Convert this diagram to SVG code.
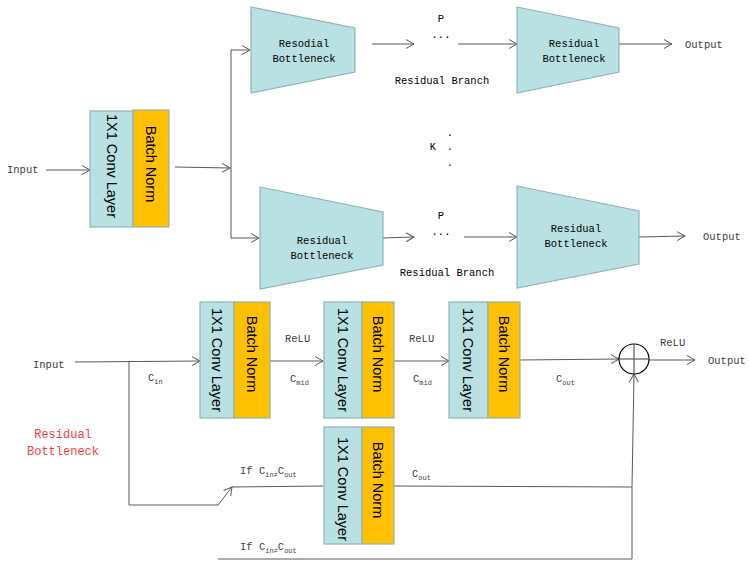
<svg xmlns="http://www.w3.org/2000/svg" width="749" height="563" viewBox="0 0 749 563">
<style>
.conv{fill:#b9e0e3;stroke:#8fb4b6;stroke-width:1.2}
.bn{fill:#ffc000;stroke:#8fb4b6;stroke-width:1.2}
.trap{fill:#b9e0e3;stroke:#8fb4b6;stroke-width:1.2}
.vt{font-family:"Liberation Sans",Arial,sans-serif;font-size:14.5px;fill:#000;text-anchor:middle;dominant-baseline:central}
.lb{font-family:"Liberation Mono","Courier New",monospace;font-size:10.5px;fill:#404040}
.bk{font-family:"Liberation Mono","Courier New",monospace;font-size:10.5px;fill:#000}
.mid{text-anchor:middle}
.sub{font-size:7px}
.red{font-family:"Liberation Mono","Courier New",monospace;font-size:12px;fill:#ff3b3b;text-anchor:middle}
.ln{fill:none;stroke:#595959;stroke-width:1}
.ar{marker-end:url(#arr)}
</style>
<defs>
<marker id="arr" markerUnits="userSpaceOnUse" markerWidth="10" markerHeight="10" refX="8" refY="4.5" orient="auto" overflow="visible">
<path d="M0,0 L8,4.5 L0,9" fill="none" stroke="#595959" stroke-width="1"/>
</marker>
</defs>

<g id="connectors">
<line class="ln ar" x1="46" y1="170" x2="90" y2="170"/>
<line class="ln ar" x1="175" y1="167" x2="230" y2="168"/>
<polyline class="ln ar" points="231,168 231,50 250,50"/>
<polyline class="ln ar" points="231,168 231,238 259,238"/>
<line class="ln ar" x1="372" y1="44" x2="414" y2="44"/>
<line class="ln ar" x1="458" y1="44" x2="517" y2="44"/>
<line class="ln ar" x1="619" y1="44" x2="672" y2="44"/>
<line class="ln ar" x1="383" y1="238" x2="414" y2="237"/>
<line class="ln ar" x1="464" y1="237" x2="517" y2="237"/>
<line class="ln ar" x1="639" y1="237" x2="685" y2="236"/>
<line class="ln ar" x1="75" y1="362" x2="200" y2="361"/>
<line class="ln ar" x1="270" y1="361" x2="323" y2="361"/>
<line class="ln ar" x1="394" y1="361" x2="449" y2="361"/>
<line class="ln ar" x1="520" y1="360" x2="619" y2="359"/>
<line class="ln ar" x1="649" y1="360" x2="695" y2="360"/>
<polyline class="ln ar" points="129,362 129,505 218,505 232,487"/>
<line class="ln" x1="232" y1="487" x2="323" y2="486"/>
<line class="ln" x1="394" y1="486" x2="632" y2="487"/>
<polyline class="ln" points="218,559 632,559 632,487"/>
<line class="ln ar" x1="632" y1="487" x2="634" y2="374"/>
</g>

<g id="input-label"><text class="lb" x="7" y="173">Input</text></g>

<g id="block-top">
<rect class="conv" x="90" y="111" width="43" height="116"/>
<rect class="bn" x="133" y="110" width="36" height="117"/>
<text class="vt" transform="translate(111.5,166) rotate(90)">1X1 Conv Layer</text>
<text class="vt" transform="translate(151,164) rotate(90)">Batch Norm</text>
</g>

<g id="rb-top-1">
<polygon class="trap" points="251,7 355,28 355,72 251,93"/>
<text class="bk mid" x="304" y="47" fill="#333">Resodial</text>
<text class="bk mid" x="304" y="62">Bottleneck</text>
</g>
<g id="rb-top-2">
<polygon class="trap" points="517,7 619,28 619,72 517,93"/>
<text class="bk mid" x="574" y="47">Residual</text>
<text class="bk mid" x="574" y="62">Bottleneck</text>
</g>
<g id="rb-bot-1">
<polygon class="trap" points="260,187 383,212 383,265 260,289"/>
<text class="bk mid" x="322" y="244">Residual</text>
<text class="bk mid" x="322" y="259">Bottleneck</text>
</g>
<g id="rb-bot-2">
<polygon class="trap" points="517,186 639,211 639,264 517,288"/>
<text class="bk mid" x="576" y="232">Residual</text>
<text class="bk mid" x="576" y="247">Bottleneck</text>
</g>

<g id="top-labels">
<text class="bk mid" x="441" y="22">P</text>
<text class="bk mid" x="441" y="38">...</text>
<text class="bk mid" x="442" y="84">Residual Branch</text>
<text class="lb" x="685" y="48">Output</text>
<text class="bk mid" x="433" y="150">K</text>
<text class="bk mid" x="450" y="136">.</text>
<text class="bk mid" x="450" y="150">.</text>
<text class="bk mid" x="450" y="166">.</text>
<text class="bk mid" x="441" y="219">P</text>
<text class="bk mid" x="441" y="235">...</text>
<text class="bk mid" x="447" y="276">Residual Branch</text>
<text class="lb" x="703" y="240">Output</text>
</g>

<g id="block-a">
<rect class="conv" x="200" y="302" width="34" height="116"/>
<rect class="bn" x="234" y="302" width="36" height="116"/>
<text class="vt" transform="translate(217,360) rotate(90)">1X1 Conv Layer</text>
<text class="vt" transform="translate(252,354) rotate(90)">Batch Norm</text>
</g>
<g id="block-b">
<rect class="conv" x="324" y="302" width="38" height="116"/>
<rect class="bn" x="362" y="302" width="32" height="116"/>
<text class="vt" transform="translate(343,360) rotate(90)">1X1 Conv Layer</text>
<text class="vt" transform="translate(378,354) rotate(90)">Batch Norm</text>
</g>
<g id="block-c">
<rect class="conv" x="449" y="302" width="39" height="116"/>
<rect class="bn" x="488" y="302" width="32" height="116"/>
<text class="vt" transform="translate(468,360) rotate(90)">1X1 Conv Layer</text>
<text class="vt" transform="translate(504,354) rotate(90)">Batch Norm</text>
</g>
<g id="block-d">
<rect class="conv" x="324" y="427" width="38" height="117"/>
<rect class="bn" x="362" y="427" width="32" height="117"/>
<text class="vt" transform="translate(343,489) rotate(90)">1X1 Conv Layer</text>
<text class="vt" transform="translate(378,480) rotate(90)">Batch Norm</text>
</g>

<g id="sum">
<circle cx="634" cy="359" r="15" fill="#fff" stroke="#000" stroke-width="1.2"/>
<line x1="619" y1="359" x2="649" y2="359" stroke="#595959" stroke-width="1.2"/>
<line x1="634" y1="344" x2="634" y2="374" stroke="#595959" stroke-width="1.2"/>
</g>

<g id="bottom-labels">
<text class="lb" x="33" y="368">Input</text>
<text class="lb" x="148" y="381">C<tspan class="sub" dy="2.5">in</tspan></text>
<text class="lb" x="285" y="342">ReLU</text>
<text class="lb" x="290" y="382">C<tspan class="sub" dy="2.5">mid</tspan></text>
<text class="lb" x="409" y="342">ReLU</text>
<text class="lb" x="413" y="382">C<tspan class="sub" dy="2.5">mid</tspan></text>
<text class="lb" x="556" y="382">C<tspan class="sub" dy="2.5">out</tspan></text>
<text class="lb" x="660" y="346">ReLU</text>
<text class="lb" x="708" y="364">Output</text>
<text class="lb" x="240" y="474">If C<tspan class="sub" dy="2.5">in≠</tspan><tspan dy="-2.5">C</tspan><tspan class="sub" dy="2.5">out</tspan></text>
<text class="lb" x="412" y="477">C<tspan class="sub" dy="2.5">out</tspan></text>
<text class="lb" x="240" y="550">If C<tspan class="sub" dy="2.5">in≠</tspan><tspan dy="-2.5">C</tspan><tspan class="sub" dy="2.5">out</tspan></text>
<text class="red" x="63" y="438">Residual</text>
<text class="red" x="63" y="455">Bottleneck</text>
</g>
</svg>
